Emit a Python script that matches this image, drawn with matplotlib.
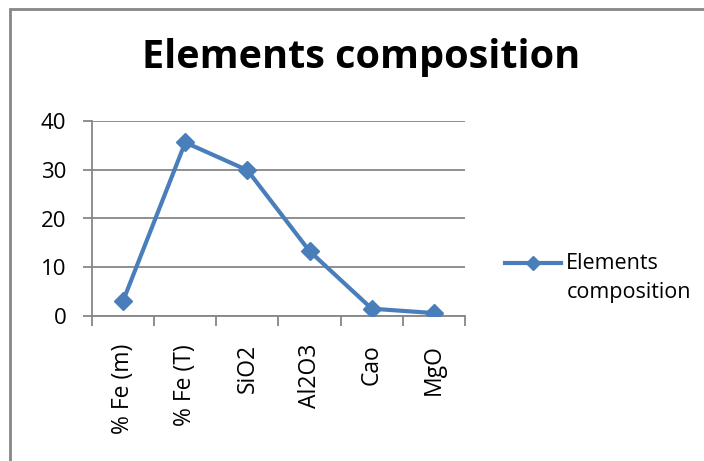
import matplotlib.pyplot as plt
from matplotlib.patches import Rectangle
import numpy as np

plt.rcParams['font.family'] = ['Open Sans', 'DejaVu Sans']

categories = ['% Fe (m)', '% Fe (T)', 'SiO2', 'Al2O3', 'Cao', 'MgO']
values = [3.1, 35.6, 29.9, 13.3, 1.5, 0.6]
series_name = 'Elements composition'
y_ticks = [0, 10, 20, 30, 40]

blue = '#4A7EBB'
grey = '#868686'

fig = plt.figure(figsize=(7.04, 4.61), dpi=100)
ax = fig.add_axes([92 / 704, 1 - 316 / 461, (465 - 92) / 704, (316 - 121) / 461])

x = np.arange(len(categories))
line, = ax.plot(x, values, color=blue, lw=3, marker='D', markersize=9,
                markerfacecolor=blue, markeredgecolor=blue, zorder=3,
                solid_joinstyle='miter')

ax.set_xlim(-0.5, len(categories) - 0.5)
ax.set_ylim(0, 40)
ax.set_yticks(y_ticks)
ax.yaxis.grid(True, color=grey, lw=1.3)
ax.set_axisbelow(True)

# category boundaries get the tick marks, labels sit at centres
ax.set_xticks(np.arange(-0.5, len(categories), 1))
ax.set_xticklabels([])
ax.set_xticks(x, minor=True)
ax.set_xticklabels(categories, minor=True, rotation=90, fontsize=16.5)
ax.tick_params(axis='x', which='minor', length=0, pad=20)
ax.tick_params(axis='x', which='major', length=7, width=1.3, color=grey, direction='out')
ax.tick_params(axis='y', length=6.5, width=1.3, color=grey, direction='out',
               labelsize=16, pad=12)

for s in ['top', 'right']:
    ax.spines[s].set_visible(False)
for s in ['left', 'bottom']:
    ax.spines[s].set_color(grey)
    ax.spines[s].set_linewidth(1.3)

fig.text(361 / 704, 1 - 68 / 461, 'Elements composition', ha='center',
         va='baseline', fontsize=28.5, fontweight='bold')

leg = fig.legend([line], ['Elements\ncomposition'], loc='center left',
                 bbox_to_anchor=(505 / 704, 1 - 278 / 461), frameon=False,
                 fontsize=15.5, handlelength=2.6, handletextpad=0.25,
                 borderpad=0, borderaxespad=0)
leg.get_texts()[0].set_linespacing(1.5)
for h in leg.legend_handles:
    h.set_markersize(7)
    # Excel puts the legend key level with the first text line
    h.set_ydata(np.asarray(h.get_ydata()) + 11)

fig.patches.append(Rectangle((9.5 / 704, -0.05), 1.1, 1 - 9 / 461 + 0.05,
                             transform=fig.transFigure, fill=False,
                             edgecolor=grey, lw=2))

fig.savefig('out.png', dpi=100)
